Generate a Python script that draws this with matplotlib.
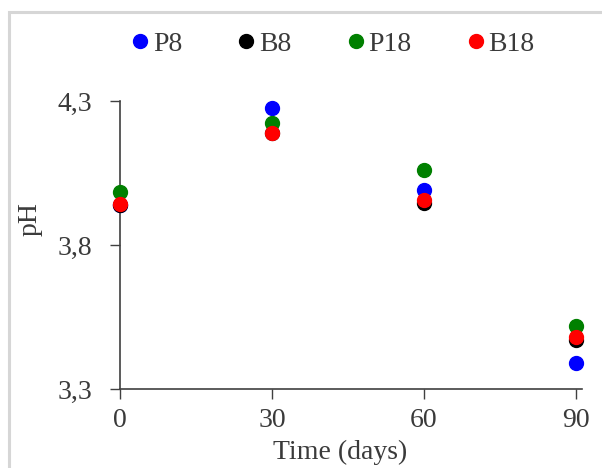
import matplotlib
matplotlib.use("Agg")
import matplotlib.pyplot as plt
from matplotlib.patches import Rectangle

days = [0, 30, 60, 90]
series_names = ["P8", "B8", "P18", "B18"]
P8 = [3.94, 4.275, 3.99, 3.39]
B8 = [3.94, 4.19, 3.945, 3.47]
P18 = [3.985, 4.222, 4.06, 3.518]
B18 = [3.942, 4.188, 3.956, 3.482]
colors = ["#0000ff", "#000000", "#008000", "#ff0000"]
yticks = [3.3, 3.8, 4.3]
ytick_labels = ["3,3", "3,8", "4,3"]
xticks = [0, 30, 60, 90]

plt.rcParams['font.family'] = ['Liberation Serif', 'DejaVu Serif']
W, H = 602, 468
fig = plt.figure(figsize=(W / 100, H / 100), dpi=100)
fig.patch.set_facecolor('white')

# light gray outer frame
fig.patches.append(Rectangle((9 / W, -0.05), 1.2, 1 - 11.5 / H + 0.05,
                             transform=fig.transFigure, fill=False,
                             edgecolor='#d6d6d6', linewidth=2.2, zorder=0))

ax = fig.add_axes([120 / W, 1 - 389 / H, 462 / W, 288 / H])
for name, vals, c in zip(series_names, [P8, B8, P18, B18], colors):
    ax.plot(days, vals, linestyle='none', marker='o', markersize=10,
            color=c, label=name, clip_on=False, zorder=3)

ax.set_xlim(0, 91.2)
ax.set_ylim(3.3, 4.3)
ax.set_xticks(xticks)
ax.set_xticklabels([str(x) for x in xticks])
ax.set_yticks(yticks)
ax.set_yticklabels(ytick_labels)
for s in ['top', 'right']:
    ax.spines[s].set_visible(False)
for s in ['left', 'bottom']:
    ax.spines[s].set_color('#404040')
    ax.spines[s].set_linewidth(1.2)
ax.tick_params(axis='both', direction='out', length=7, width=1.0,
               color='#404040', labelsize=20, pad=7, labelcolor='#3a3a3a')
ax.tick_params(axis='y', pad=13)

fig.text(30 / W, 1 - 219 / H, "pH", rotation=90, ha='center', va='center',
         fontsize=20, color='#3a3a3a')
fig.text(340 / W, 1 - 452 / H, "Time (days)", ha='center', va='center',
         fontsize=20, color='#3a3a3a')

fig.legend(loc='center', bbox_to_anchor=(334 / W, 1 - 44 / H), ncol=4,
           frameon=False, fontsize=20, handlelength=0.5, handletextpad=0.22,
           columnspacing=2.05, borderaxespad=0, borderpad=0,
           labelcolor='#3a3a3a')

fig.savefig("out.png", dpi=100, facecolor='white')
